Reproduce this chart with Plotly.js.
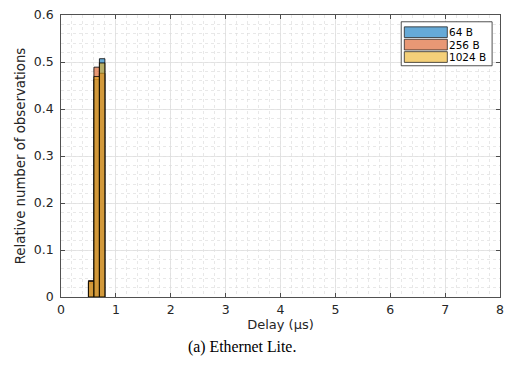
<!DOCTYPE html>
<html>
<head>
<meta charset="utf-8">
<script src="https://cdn.plot.ly/plotly-3.0.1.min.js"></script>
<style>html,body{margin:0;padding:0;background:#fff;}#chart{width:511px;height:369px;}</style>
</head>
<body>
<div id="chart"></div>
<script>
// bin centers (µs), bin width 0.1
const binCenters = [0.55, 0.65, 0.75];
const seriesNames = ["64 B", "256 B", "1024 B"];
const values64 = [0.030, 0.463, 0.507];
const values256 = [0.035, 0.489, 0.476];
const values1024 = [0.033, 0.469, 0.498];
const xTicks = [0, 1, 2, 3, 4, 5, 6, 7, 8];
const yTicks = [0, 0.1, 0.2, 0.3, 0.4, 0.5, 0.6];

const fills = ["rgba(0,114,189,0.6)", "rgba(217,83,25,0.6)", "rgba(237,177,32,0.6)"];
const swatch = ["#66AAD7", "#E89875", "#F4D079"];
const allValues = [values64, values256, values1024];

const traces = allValues.map((v, i) => ({
  type: "bar",
  x: binCenters,
  y: v,
  width: 0.1,
  name: seriesNames[i],
  marker: {color: fills[i], line: {color: "#000", width: 0.8}},
  showlegend: false,
  hoverinfo: "skip"
}));

// custom legend (wide MATLAB-style swatches)
const shapes = [];
const annotations = [];
const lx0 = 0.775, lx1 = 0.982, ly1 = 0.976, ly0 = 0.82;
shapes.push({type: "rect", xref: "paper", yref: "paper", x0: lx0, x1: lx1, y0: ly0, y1: ly1,
  line: {color: "#262626", width: 0.8}, fillcolor: "#fff", layer: "above"});
const rowY = [0.939, 0.895, 0.851];
seriesNames.forEach((n, i) => {
  shapes.push({type: "rect", xref: "paper", yref: "paper", x0: 0.782, x1: 0.880,
    y0: rowY[i] - 0.019, y1: rowY[i] + 0.019,
    line: {color: "#262626", width: 0.8}, fillcolor: swatch[i], layer: "above"});
  annotations.push({xref: "paper", yref: "paper", x: 0.882, y: rowY[i], xanchor: "left", yanchor: "middle",
    text: n, showarrow: false, borderpad: 0, font: {family: "DejaVu Sans", size: 10.5, color: "#000"}});
});
annotations.push({xref: "paper", yref: "paper", x: 0.413, y: -0.177, xanchor: "center", yanchor: "middle",
  text: "(a) Ethernet Lite.", showarrow: false,
  font: {family: "Liberation Serif, Times New Roman, serif", size: 15.8, color: "#000"}});

const axisCommon = {
  showline: true, linecolor: "#262626", linewidth: 0.8, mirror: "ticks",
  ticks: "inside", ticklen: 4, tickcolor: "#262626", tickwidth: 0.8,
  showgrid: true, gridcolor: "#dedede", gridwidth: 0.8, zeroline: false,
  tickfont: {family: "DejaVu Sans", size: 12.5, color: "#262626"}
};

const layout = {
  width: 511, height: 369,
  margin: {l: 60.5, r: 11, t: 15, b: 72},
  paper_bgcolor: "#fff", plot_bgcolor: "#fff",
  barmode: "overlay",
  bargap: 0,
  showlegend: false,
  xaxis: Object.assign({}, axisCommon, {
    range: [0, 8], tickvals: xTicks, ticktext: xTicks.map(String),
    minor: {dtick: 0.2, showgrid: true, gridcolor: "#d8d8d8", gridwidth: 0.6, griddash: "dot", ticks: ""},
    ticklabelstandoff: 1,
    title: {text: "Delay (µs)", font: {family: "DejaVu Sans", size: 13, color: "#262626"}, standoff: 3}
  }),
  yaxis: Object.assign({}, axisCommon, {
    range: [0, 0.6], tickvals: yTicks, ticktext: yTicks.map(v => v === 0 ? "0" : v.toFixed(1)),
    minor: {dtick: 0.02, showgrid: true, gridcolor: "#d8d8d8", gridwidth: 0.6, griddash: "dot", ticks: ""},
    ticklabelstandoff: 4,
    title: {text: "Relative number of observations", font: {family: "DejaVu Sans", size: 13.3, color: "#262626"}, standoff: 5}
  }),
  shapes: shapes,
  annotations: annotations
};

Plotly.newPlot("chart", traces, layout, {displayModeBar: false, staticPlot: true});
</script>
</body>
</html>
